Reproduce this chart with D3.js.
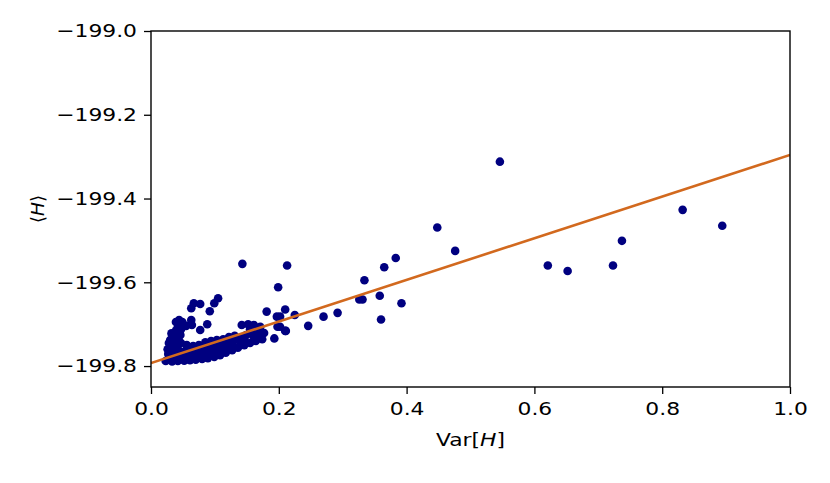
<!DOCTYPE html>
<html><head><meta charset="utf-8">
<script src="https://cdn.jsdelivr.net/npm/d3@7"></script>
<style>body{margin:0;background:#fff}svg text{font-family:"DejaVu Sans",sans-serif}</style>
</head><body>
<svg id="c" width="830" height="483"></svg>
<script>
const xTicks = [0.0, 0.2, 0.4, 0.6, 0.8, 1.0];
const yTicks = [-199.8, -199.6, -199.4, -199.2, -199.0];
const xLabels = ["0.0","0.2","0.4","0.6","0.8","1.0"];
const yLabels = ["\u2212199.8","\u2212199.6","\u2212199.4","\u2212199.2","\u2212199.0"];

// Var[H] values
const varH = [
 0.023,0.033,0.042,0.052,0.061,0.070,0.080,0.089,0.099,0.108,0.117,0.127,0.136,0.146,0.155,0.164,0.174,
 0.028,0.038,0.048,0.058,0.068,0.078,0.088,0.098,0.108,0.118,0.128,
 0.027,0.036,0.045,0.055,0.064,0.074,0.083,0.092,0.102,0.111,0.121,0.130,0.139,0.149,0.158,0.167,0.177,
 0.030,0.038,0.047,0.056,0.066,0.075,0.085,0.094,0.103,0.113,0.122,0.131,0.142,0.152,0.161,0.171,0.155,
 0.030,0.036,0.042,0.046,
 0.026,0.028,0.033,0.035,0.040,0.043,0.060,0.038,0.046,0.054,0.032,0.039,0.045,
 0.039,0.044,0.049,0.042,0.047,0.055,
 0.063,0.067,0.077,0.099,0.105,0.092,0.063,0.064,0.077,0.088,0.073,0.060,
 0.146,0.160,0.170,0.140,0.125,0.110,0.095,0.080,0.065,0.050,0.035,
 0.181,0.210,0.197,0.198,0.211,0.193,0.225,0.199,0.213,0.143,
 0.246,0.202,0.202,0.210,0.270,0.292,0.360,0.392,0.331,0.326,0.358,0.334,0.365,0.383,0.448,0.476,
 0.546,0.621,0.652,0.723,0.737,0.832,0.894
];
// <H> values
const meanH = [
 -199.788,-199.789,-199.788,-199.787,-199.786,-199.785,-199.783,-199.781,-199.778,-199.774,-199.768,-199.762,-199.756,-199.750,-199.745,-199.740,-199.736,
 -199.780,-199.779,-199.777,-199.776,-199.774,-199.772,-199.770,-199.768,-199.765,-199.760,-199.754,
 -199.771,-199.767,-199.764,-199.762,-199.762,-199.759,-199.757,-199.755,-199.752,-199.747,-199.743,-199.738,-199.733,-199.726,-199.721,-199.719,-199.721,
 -199.755,-199.747,-199.745,-199.750,-199.752,-199.750,-199.743,-199.740,-199.738,-199.736,-199.731,-199.728,-199.702,-199.700,-199.702,-199.706,-199.712,
 -199.738,-199.728,-199.724,-199.726,
 -199.760,-199.745,-199.752,-199.738,-199.755,-199.735,-199.757,-199.770,-199.772,-199.768,-199.722,-199.715,-199.720,
 -199.695,-199.690,-199.695,-199.707,-199.712,-199.704,
 -199.662,-199.650,-199.652,-199.650,-199.638,-199.669,-199.690,-199.702,-199.714,-199.700,-199.756,-199.760,
 -199.735,-199.728,-199.724,-199.742,-199.748,-199.755,-199.760,-199.765,-199.770,-199.775,-199.778,
 -199.670,-199.665,-199.682,-199.706,-199.716,-199.734,-199.678,-199.612,-199.560,-199.556,
 -199.704,-199.682,-199.706,-199.716,-199.682,-199.673,-199.689,-199.650,-199.641,-199.641,-199.632,-199.595,-199.564,-199.542,-199.469,-199.525,
 -199.312,-199.560,-199.573,-199.560,-199.501,-199.427,-199.465
];
const fitX = [0.0, 1.0];
const fitY = [-199.793, -199.296];

const L = 151, R = 790, T = 31, B = 387;
const FS = 18.5, SX = 1.18;
const svg = d3.select("#c");
const x = d3.scaleLinear().domain([0, 1]).range([L, R]);
const y = d3.scaleLinear().domain([-199.85, -199.0]).range([B, T]);

svg.append("defs").append("clipPath").attr("id","clip")
  .append("rect").attr("x",L).attr("y",T).attr("width",R-L).attr("height",B-T);

const g = svg.append("g").attr("clip-path","url(#clip)");
g.selectAll("circle").data(varH).join("circle")
  .attr("cx", (d)=>x(d)).attr("cy", (d,i)=>y(meanH[i])).attr("r", 4.3).attr("fill", "#000080");

g.append("path").datum(fitX.map((d,i)=>[d, fitY[i]]))
  .attr("d", d3.line().x(d=>x(d[0])).y(d=>y(d[1])))
  .attr("fill","none").attr("stroke","#d2691e").attr("stroke-width",2.6);

const xAxis = d3.axisBottom(x).tickValues(xTicks).tickFormat((d,i)=>xLabels[i]).tickSize(7).tickPadding(8);
const yAxis = d3.axisLeft(y).tickValues(yTicks).tickFormat((d,i)=>yLabels[i]).tickSize(7).tickPadding(7);
const ax = svg.append("g").attr("transform",`translate(0,${B})`).call(xAxis);
const ay = svg.append("g").attr("transform",`translate(${L},0)`).call(yAxis);
[ax, ay].forEach(a=>{
  a.select(".domain").remove();
  a.selectAll("line").attr("stroke","#000").attr("stroke-width",1.3);
  a.selectAll("text").attr("font-size",FS).attr("fill","#000").attr("font-family","DejaVu Sans")
    .each(function(){
      const t = d3.select(this);
      const x0 = +t.attr("x") || 0;
      t.attr("x", 0).attr("transform", `translate(${x0},0) scale(${SX},1)`);
    });
});
svg.append("rect").attr("x",L).attr("y",T).attr("width",R-L).attr("height",B-T)
  .attr("fill","none").attr("stroke","#000").attr("stroke-width",1.4);

const xl = svg.append("text").attr("transform",`translate(${(L+R)/2},446) scale(${SX},1)`)
  .attr("text-anchor","middle").attr("font-size",FS);
xl.append("tspan").text("Var[");
xl.append("tspan").attr("font-style","italic").text("H");
xl.append("tspan").text("]");

const yl = svg.append("text").attr("transform",`translate(44,${(T+B)/2}) rotate(-90)`).attr("text-anchor","middle").attr("font-size",FS);
yl.append("tspan").text("\u27E8");
yl.append("tspan").attr("font-style","italic").text("H");
yl.append("tspan").text("\u27E9");
</script>
</body></html>
